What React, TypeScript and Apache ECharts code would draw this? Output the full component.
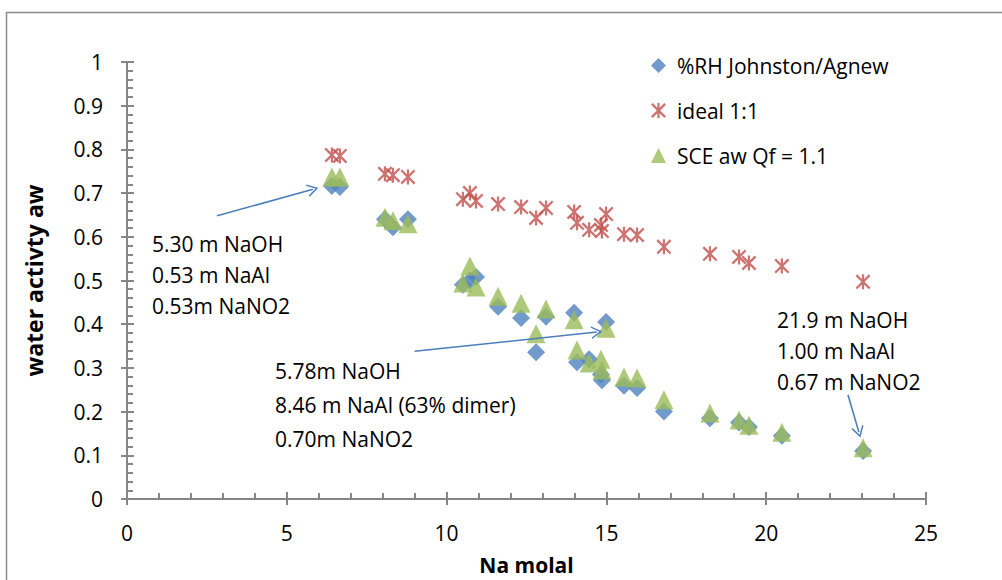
import React, { useEffect, useRef } from "react";
import * as echarts from "echarts";

// Na molal (shared x values for the three series)
const molal = [6.41, 6.66, 8.07, 8.32, 8.79, 10.51, 10.73, 10.92, 11.61, 12.33, 12.8, 13.11, 13.99, 14.08, 14.46, 14.83, 14.86, 14.99, 15.55, 15.96, 16.8, 18.24, 19.15, 19.46, 20.49, 23.03];
const rhJohnstonAgnew = [0.716, 0.714, 0.64, 0.622, 0.64, 0.49, 0.5, 0.508, 0.44, 0.414, 0.336, 0.417, 0.426, 0.313, 0.32, 0.285, 0.272, 0.405, 0.259, 0.254, 0.2, 0.185, 0.175, 0.165, 0.145, 0.11];
const ideal11 = [0.787, 0.785, 0.744, 0.741, 0.737, 0.686, 0.7, 0.682, 0.675, 0.668, 0.643, 0.666, 0.657, 0.632, 0.616, 0.627, 0.613, 0.652, 0.606, 0.604, 0.577, 0.561, 0.554, 0.54, 0.533, 0.497];
const sceAw = [0.737, 0.737, 0.645, 0.637, 0.63, 0.494, 0.533, 0.485, 0.464, 0.448, 0.378, 0.435, 0.41, 0.341, 0.311, 0.32, 0.295, 0.391, 0.279, 0.277, 0.227, 0.197, 0.181, 0.169, 0.153, 0.117];

const seriesNames = ["%RH Johnston/Agnew", "ideal 1:1", "SCE aw Qf = 1.1"];
const xAxisTitle = "Na molal";
const yAxisTitle = "water activty aw";

const noteLow = ["5.30 m NaOH", "0.53 m NaAl", "0.53m NaNO2"];
const noteMid = ["5.78m NaOH", "8.46 m NaAl (63% dimer)", "0.70m NaNO2"];
const noteHigh = ["21.9 m NaOH", "1.00 m NaAl", "0.67 m NaNO2"];

// arrow start/end in data coordinates [molal, aw]
const arrowLow = [[2.82, 0.648], [5.82, 0.709]];
const arrowMid = [[9.0, 0.338], [14.7, 0.382]];
const arrowHigh = [[22.56, 0.238], [22.9, 0.153]];

const FONT = "'Open Sans', Lato, sans-serif";
const AXIS_COLOR = "#868686";
const FS = 21;

const STAR =
  "path://M4.25,0 L5.75,0 L5.75,10 L4.25,10 Z M0,1.1 L1.1,0 L10,8.9 L8.9,10 Z M8.9,0 L10,1.1 L1.1,10 L0,8.9 Z";
const OPEN_ARROW = "path://M0,10 L5,0 L10,10 L8.7,10 L5,2.6 L1.3,10 Z";

function pairs(ys: number[]) {
  return molal.map((x, i) => [x, ys[i]]);
}

export default function App() {
  const ref = useRef<HTMLDivElement>(null);

  useEffect(() => {
    if (!ref.current) return;
    const chart = echarts.init(ref.current, undefined, { renderer: "svg" });

    const noteText = (lines: string[], x: number, y: number, gap: number) =>
      lines.map((t, i) => ({
        type: "text",
        left: x,
        top: y + i * gap,
        style: { text: t, fill: "#000", font: `${FS}px ${FONT}` },
        z: 100,
      }));

    const commonAxisNoLabel = {
      axisLabel: { show: false },
      axisLine: { show: false },
      splitLine: { show: false },
      axisTick: { show: true, inside: false, length: 6, lineStyle: { color: AXIS_COLOR, width: 2 } },
    };

    const option: any = {
      animation: false,
      backgroundColor: "#fff",
      textStyle: { fontFamily: FONT },
      grid: { left: 127, right: 76, top: 62, bottom: 81, containLabel: false },
      legend: {
        orient: "vertical",
        left: 646,
        top: 50,
        itemWidth: 15,
        itemHeight: 15,
        itemGap: 24,
        textStyle: { fontSize: FS, color: "#000", fontFamily: FONT, padding: [0, 0, 0, 6] },
        data: seriesNames,
      },
      xAxis: [
        {
          type: "value",
          min: 0,
          max: 25,
          interval: 5,
          name: xAxisTitle,
          nameLocation: "middle",
          nameGap: 55,
          nameTextStyle: { fontSize: 21, fontWeight: "bold", color: "#000", fontFamily: FONT },
          axisLine: { show: true, lineStyle: { color: AXIS_COLOR, width: 2 } },
          axisTick: { show: true, inside: true, length: 7, lineStyle: { color: AXIS_COLOR, width: 2 } },
          minorTick: { show: true, splitNumber: 5, length: 6, lineStyle: { color: AXIS_COLOR, width: 2 } },
          axisLabel: { fontSize: FS, color: "#000", margin: 23, fontFamily: FONT },
          splitLine: { show: false },
        },
        { type: "value", min: 0, max: 25, interval: 5, position: "bottom", ...commonAxisNoLabel },
      ],
      yAxis: [
        {
          type: "value",
          min: 0,
          max: 1,
          interval: 0.1,
          name: yAxisTitle,
          nameLocation: "middle",
          nameGap: 82,
          nameTextStyle: { fontSize: 23, fontWeight: "bold", color: "#000", fontFamily: FONT },
          axisLine: { show: true, lineStyle: { color: AXIS_COLOR, width: 2 } },
          axisTick: { show: true, inside: true, length: 7, lineStyle: { color: AXIS_COLOR, width: 2 } },
          minorTick: { show: true, splitNumber: 5, length: 6, lineStyle: { color: AXIS_COLOR, width: 2 } },
          axisLabel: { fontSize: FS, color: "#000", margin: 24, fontFamily: FONT },
          splitLine: { show: false },
        },
        { type: "value", min: 0, max: 1, interval: 0.1, position: "left", ...commonAxisNoLabel },
      ],
      series: [
        {
          name: seriesNames[0],
          type: "scatter",
          symbol: "diamond",
          symbolSize: 18,
          itemStyle: { color: "#4F81BD" },
          data: pairs(rhJohnstonAgnew),
          z: 2,
        },
        {
          name: seriesNames[1],
          type: "scatter",
          symbol: STAR,
          symbolSize: 15,
          itemStyle: { color: "#C0504D" },
          data: pairs(ideal11),
          z: 3,
        },
        {
          name: seriesNames[2],
          type: "scatter",
          symbol: "triangle",
          symbolSize: [19, 19],
          itemStyle: { color: "#9BBB59" },
          data: pairs(sceAw),
          z: 4,
          markLine: {
            silent: true,
            symbol: ["none", OPEN_ARROW],
            symbolSize: [13, 11],
            label: { show: false },
            lineStyle: { color: "#4A7EBB", width: 1.6, type: "solid" },
            data: [arrowLow, arrowMid, arrowHigh].map((a) => [
              { coord: a[0] },
              { coord: a[1] },
            ]),
          },
        },
      ],
      graphic: [
        {
          type: "rect",
          shape: { x: 6.5, y: 12.5, width: 1200, height: 800 },
          style: { fill: "none", stroke: "#8a8a8a", lineWidth: 1.5 },
          z: 0,
        },
        ...noteText(noteLow, 152, 233, 31),
        ...noteText(noteMid, 275, 360, 34),
        ...noteText(noteHigh, 777, 309, 31),
      ],
    };

    chart.setOption(option);
    return () => chart.dispose();
  }, []);

  return (
    <div
      ref={ref}
      style={{ position: "fixed", left: 0, top: 0, width: 1002, height: 580, background: "#fff" }}
    />
  );
}
